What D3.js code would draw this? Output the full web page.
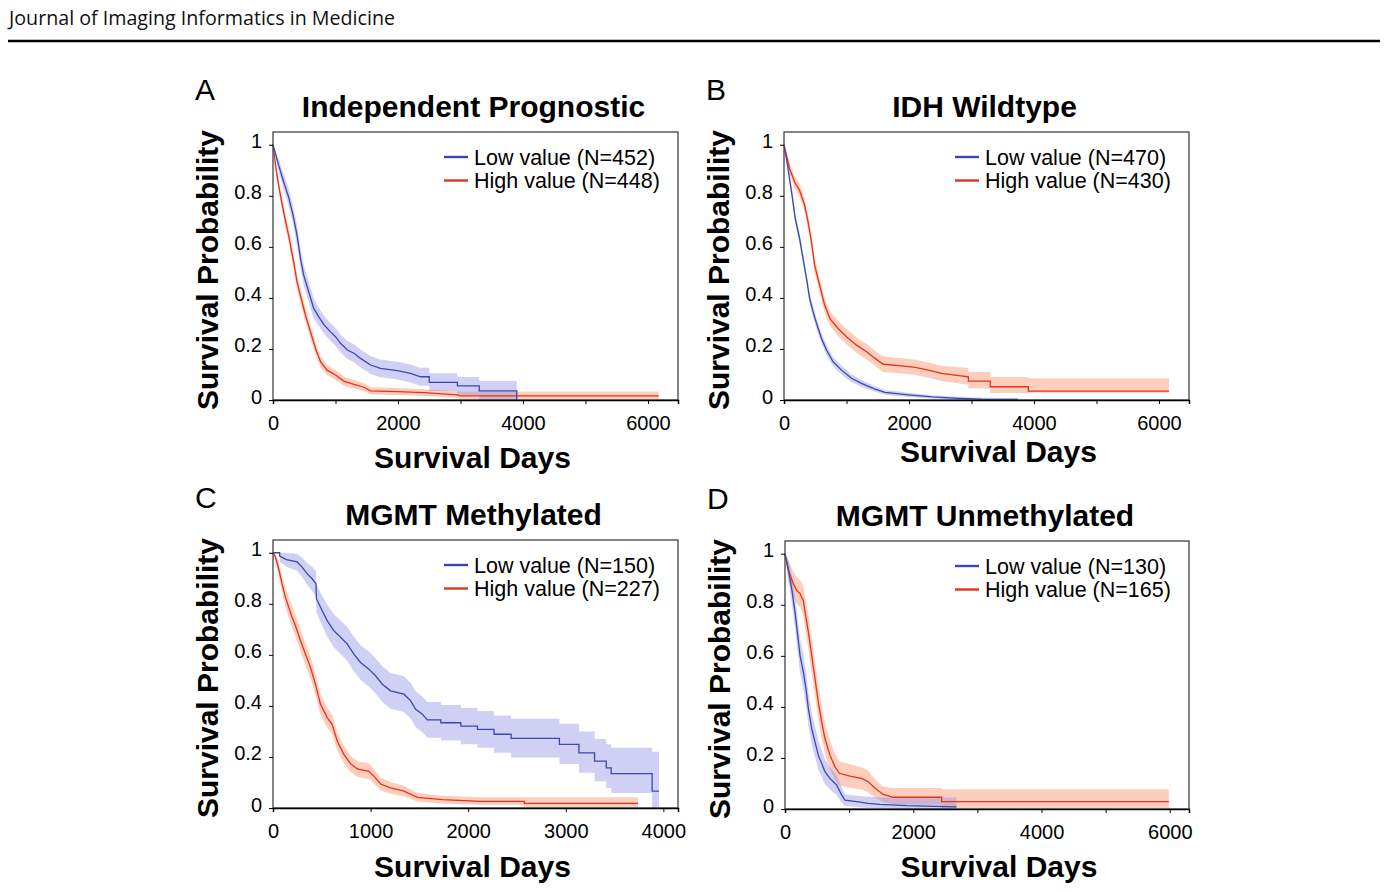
<!DOCTYPE html>
<html>
<head>
<meta charset="utf-8">
<script src="https://cdn.jsdelivr.net/npm/d3@7"></script>
<style>
  body { margin: 0; background: #fff; }
  svg { display: block; }
</style>
</head>
<body>
<script>
// Kaplan-Meier rows: [days, survival, lower CI, upper CI]
const aLow = [
  [0, 1, 1, 1], [90, 0.92, 0.895, 0.945], [170, 0.855, 0.825, 0.885], [250, 0.795, 0.76, 0.83],
  [320, 0.725, 0.69, 0.76], [385, 0.645, 0.605, 0.685], [440, 0.555, 0.515, 0.595], [490, 0.49, 0.45, 0.53],
  [570, 0.425, 0.385, 0.465], [650, 0.36, 0.32, 0.4], [735, 0.325, 0.29, 0.36], [815, 0.295, 0.26, 0.33],
  [920, 0.267, 0.232, 0.302], [1000, 0.248, 0.213, 0.283], [1080, 0.222, 0.187, 0.257], [1190, 0.196, 0.161, 0.231],
  [1295, 0.183, 0.148, 0.218], [1400, 0.163, 0.128, 0.198], [1560, 0.137, 0.102, 0.172], [1720, 0.124, 0.089, 0.159],
  [1990, 0.115, 0.08, 0.15], [2200, 0.104, 0.069, 0.139], [2360, 0.091, 0.056, 0.126],
  [2500, 0.091, 0.056, 0.126], [2500, 0.069, 0.035, 0.105], [2950, 0.069, 0.035, 0.105],
  [2950, 0.055, 0.02, 0.09], [3300, 0.055, 0.02, 0.09], [3300, 0.036, 0, 0.074],
  [3900, 0.036, 0, 0.074], [3900, 0, 0, 0]
];
const aHigh = [
  [0, 1, 1, 1], [55, 0.893, 0.875, 0.91], [120, 0.8, 0.775, 0.825], [180, 0.724, 0.695, 0.753],
  [250, 0.645, 0.615, 0.675], [330, 0.541, 0.51, 0.572], [385, 0.463, 0.433, 0.493], [450, 0.398, 0.368, 0.428],
  [520, 0.332, 0.302, 0.362], [600, 0.267, 0.24, 0.294], [680, 0.202, 0.177, 0.227], [760, 0.15, 0.128, 0.172],
  [865, 0.117, 0.097, 0.137], [1000, 0.098, 0.078, 0.118], [1135, 0.074, 0.056, 0.092], [1295, 0.061, 0.044, 0.078],
  [1455, 0.05, 0.034, 0.066], [1560, 0.036, 0.022, 0.05], [1990, 0.033, 0.02, 0.047], [2420, 0.029, 0.016, 0.042],
  [2950, 0.02, 0.008, 0.034], [3000, 0.016, 0.003, 0.033], [6170, 0.016, 0.003, 0.033]
];
const bLow = [
  [0, 1, 1, 1], [65, 0.906, 0.89, 0.922], [130, 0.8, 0.78, 0.82], [180, 0.711, 0.69, 0.732],
  [250, 0.632, 0.61, 0.654], [305, 0.554, 0.532, 0.576], [360, 0.476, 0.454, 0.498], [410, 0.398, 0.376, 0.42],
  [465, 0.346, 0.324, 0.368], [520, 0.3, 0.278, 0.322], [600, 0.241, 0.22, 0.262], [680, 0.196, 0.176, 0.216],
  [785, 0.15, 0.132, 0.168], [920, 0.117, 0.1, 0.134], [1080, 0.085, 0.07, 0.1], [1240, 0.065, 0.052, 0.078],
  [1455, 0.043, 0.032, 0.054], [1615, 0.03, 0.021, 0.039], [1990, 0.02, 0.012, 0.028], [2365, 0.012, 0.006, 0.019],
  [2790, 0.0065, 0.002, 0.013], [3165, 0.003, 0, 0.009], [3740, 0.002, 0, 0.008]
];
const bHigh = [
  [0, 1, 1, 1], [90, 0.906, 0.885, 0.927], [170, 0.854, 0.83, 0.878], [250, 0.821, 0.795, 0.847],
  [330, 0.763, 0.735, 0.791], [385, 0.698, 0.668, 0.728], [440, 0.619, 0.589, 0.649], [490, 0.528, 0.498, 0.558],
  [570, 0.45, 0.42, 0.48], [650, 0.372, 0.342, 0.402], [735, 0.319, 0.29, 0.348], [865, 0.28, 0.25, 0.31],
  [1000, 0.248, 0.218, 0.278], [1160, 0.215, 0.185, 0.245], [1320, 0.189, 0.159, 0.219], [1455, 0.163, 0.133, 0.193],
  [1590, 0.14, 0.11, 0.17], [1880, 0.134, 0.104, 0.164], [2100, 0.128, 0.098, 0.158], [2310, 0.117, 0.087, 0.147],
  [2520, 0.104, 0.074, 0.134], [2950, 0.091, 0.06, 0.125], [2950, 0.074, 0.045, 0.11], [3300, 0.074, 0.045, 0.11],
  [3300, 0.052, 0.027, 0.09], [3910, 0.052, 0.027, 0.09], [3910, 0.035, 0.028, 0.085], [6160, 0.035, 0.028, 0.085]
];
const cLow = [
  [0, 1, 1, 1], [68, 1, 1, 1], [68, 0.987, 0.965, 1], [137, 0.973, 0.945, 1], [247, 0.964, 0.93, 0.995],
  [298, 0.944, 0.905, 0.98], [349, 0.918, 0.875, 0.96], [401, 0.898, 0.85, 0.945], [440, 0.879, 0.83, 0.928],
  [445, 0.82, 0.765, 0.875], [503, 0.774, 0.715, 0.833], [555, 0.734, 0.672, 0.796], [623, 0.695, 0.63, 0.76],
  [692, 0.669, 0.603, 0.735], [760, 0.643, 0.577, 0.709], [829, 0.603, 0.535, 0.671], [897, 0.57, 0.502, 0.638],
  [983, 0.544, 0.475, 0.613], [1051, 0.518, 0.449, 0.587], [1120, 0.485, 0.415, 0.555], [1205, 0.459, 0.389, 0.529],
  [1342, 0.446, 0.376, 0.516], [1411, 0.42, 0.35, 0.49], [1462, 0.387, 0.317, 0.457], [1531, 0.367, 0.297, 0.437],
  [1582, 0.345, 0.275, 0.415], [1720, 0.345, 0.275, 0.415], [1720, 0.334, 0.264, 0.404], [1925, 0.334, 0.264, 0.404],
  [1925, 0.321, 0.25, 0.392], [2095, 0.321, 0.25, 0.392], [2095, 0.308, 0.236, 0.38], [2265, 0.308, 0.236, 0.38],
  [2265, 0.289, 0.216, 0.362], [2440, 0.289, 0.216, 0.362], [2440, 0.273, 0.198, 0.35], [2935, 0.273, 0.198, 0.35],
  [2935, 0.249, 0.172, 0.33], [3135, 0.249, 0.172, 0.33], [3135, 0.216, 0.138, 0.3], [3295, 0.216, 0.138, 0.3],
  [3295, 0.184, 0.105, 0.27], [3415, 0.184, 0.105, 0.27], [3415, 0.157, 0.078, 0.25], [3465, 0.157, 0.078, 0.25],
  [3465, 0.135, 0.059, 0.236], [3885, 0.135, 0.059, 0.236], [3885, 0.066, 0, 0.22], [3955, 0.066, 0, 0.22]
];
const cHigh = [
  [0, 1, 1, 1], [24, 0.984, 0.97, 0.998], [58, 0.938, 0.91, 0.966], [92, 0.879, 0.845, 0.913],
  [127, 0.826, 0.788, 0.864], [161, 0.787, 0.747, 0.827], [195, 0.748, 0.707, 0.789], [229, 0.715, 0.673, 0.757],
  [281, 0.656, 0.613, 0.699], [332, 0.603, 0.56, 0.646], [384, 0.551, 0.508, 0.594], [435, 0.485, 0.443, 0.527],
  [486, 0.407, 0.366, 0.448], [555, 0.354, 0.315, 0.393], [606, 0.328, 0.29, 0.366], [658, 0.262, 0.226, 0.298],
  [726, 0.21, 0.176, 0.244], [795, 0.173, 0.141, 0.205], [863, 0.153, 0.122, 0.184], [983, 0.144, 0.114, 0.174],
  [1034, 0.125, 0.097, 0.153], [1103, 0.094, 0.069, 0.119], [1205, 0.079, 0.056, 0.102], [1342, 0.066, 0.045, 0.087],
  [1479, 0.042, 0.025, 0.059], [1736, 0.033, 0.018, 0.048], [2130, 0.026, 0.012, 0.042], [2575, 0.026, 0.012, 0.042],
  [2575, 0.018, 0.003, 0.042], [3740, 0.018, 0.003, 0.042]
];
const dLow = [
  [0, 1, 1, 1], [52, 0.941, 0.9, 0.975], [104, 0.863, 0.81, 0.915], [156, 0.772, 0.71, 0.834],
  [192, 0.694, 0.63, 0.758], [234, 0.602, 0.535, 0.669], [286, 0.537, 0.47, 0.604], [327, 0.472, 0.405, 0.539],
  [364, 0.394, 0.328, 0.46], [416, 0.316, 0.252, 0.38], [468, 0.263, 0.203, 0.323], [519, 0.211, 0.155, 0.267],
  [571, 0.179, 0.126, 0.232], [623, 0.146, 0.097, 0.195], [701, 0.12, 0.075, 0.165], [805, 0.094, 0.055, 0.133],
  [883, 0.055, 0.025, 0.085], [935, 0.035, 0.012, 0.058], [1117, 0.029, 0.008, 0.052], [1299, 0.022, 0.004, 0.048],
  [1481, 0.018, 0.002, 0.046], [1896, 0.013, 0, 0.045], [2675, 0.008, 0, 0.045]
];
const dHigh = [
  [0, 1, 1, 1], [52, 0.935, 0.895, 0.975], [130, 0.883, 0.835, 0.93], [182, 0.857, 0.805, 0.909],
  [234, 0.844, 0.79, 0.898], [286, 0.817, 0.76, 0.874], [312, 0.772, 0.71, 0.834], [364, 0.694, 0.628, 0.76],
  [416, 0.602, 0.534, 0.67], [468, 0.511, 0.443, 0.579], [519, 0.42, 0.353, 0.487], [571, 0.342, 0.278, 0.406],
  [623, 0.276, 0.216, 0.336], [701, 0.211, 0.155, 0.267], [779, 0.166, 0.115, 0.217], [847, 0.14, 0.093, 0.187],
  [1013, 0.129, 0.083, 0.175], [1195, 0.12, 0.076, 0.164], [1299, 0.107, 0.065, 0.149], [1403, 0.081, 0.045, 0.117],
  [1532, 0.057, 0.027, 0.087], [1688, 0.046, 0.018, 0.082], [2442, 0.046, 0.018, 0.082],
  [2442, 0.029, 0.003, 0.077], [5986, 0.029, 0.003, 0.077]
];

const panelLetters = ["A", "B", "C", "D"];
const panelTitles = ["Independent Prognostic", "IDH Wildtype", "MGMT Methylated", "MGMT Unmethylated"];
const lowN = [452, 470, 150, 130];
const highN = [448, 430, 227, 165];
const yTicks = [0, 0.2, 0.4, 0.6, 0.8, 1];
const xLabelTicksWide = [0, 2000, 4000, 6000];
const xLabelTicksShort = [0, 1000, 2000, 3000, 4000];

const lowColor = "#3b47b3", highColor = "#e4321f";
const lowBand = "#8f8fe6", highBand = "#fa8a5e";
const font = "'Liberation Sans', Arial, sans-serif";

// layout of the four panels
const layout = [
  { left: 273, top: 132, w: 405, h: 268, xMax: 6480, labels: xLabelTicksWide, xlabDx: -3, xlabDy: 68 },
  { left: 784, top: 132, w: 405, h: 268, xMax: 6480, labels: xLabelTicksWide, xlabDx: 12, xlabDy: 62 },
  { left: 273, top: 540, w: 405, h: 268, xMax: 4150, labels: xLabelTicksShort, xlabDx: -3, xlabDy: 69 },
  { left: 785, top: 541, w: 404, h: 268, xMax: 6300, labels: xLabelTicksWide, xlabDx: 12, xlabDy: 68 },
];
const curves = [[aLow, aHigh], [bLow, bHigh], [cLow, cHigh], [dLow, dHigh]];

const svg = d3.select("body").append("svg").attr("width", 1387).attr("height", 892);

// journal header
svg.append("text")
  .attr("x", 9).attr("y", 25)
  .attr("font-family", "'Open Sans', 'Noto Sans', sans-serif")
  .attr("font-size", 20)
  .attr("textLength", 386).attr("lengthAdjust", "spacingAndGlyphs")
  .attr("fill", "#111")
  .text("Journal of Imaging Informatics in Medicine");
svg.append("line")
  .attr("x1", 8).attr("x2", 1380).attr("y1", 41).attr("y2", 41)
  .attr("stroke", "#000").attr("stroke-width", 2.5);

layout.forEach((p, i) => {
  const x = d3.scaleLinear().domain([0, p.xMax]).range([p.left, p.left + p.w]);
  const y = d3.scaleLinear().domain([0, 1.05]).range([p.top + p.h, p.top]);
  const g = svg.append("g").attr("font-family", font);

  const area = d3.area().x((d) => x(d[0])).y0((d) => y(d[2])).y1((d) => y(d[3]));
  const line = d3.line().x((d) => x(d[0])).y((d) => y(d[1]));
  const [low, high] = curves[i];

  g.append("path").attr("d", area(high)).attr("fill", highBand).attr("fill-opacity", 0.42);
  g.append("path").attr("d", area(low)).attr("fill", lowBand).attr("fill-opacity", 0.42);
  g.append("path").attr("d", line(high)).attr("fill", "none").attr("stroke", highColor).attr("stroke-width", 1.3);
  g.append("path").attr("d", line(low)).attr("fill", "none").attr("stroke", lowColor).attr("stroke-width", 1.3);

  // frame
  g.append("rect")
    .attr("x", p.left).attr("y", p.top).attr("width", p.w).attr("height", p.h)
    .attr("fill", "none").attr("stroke", "#444").attr("stroke-width", 1.3);

  // x axis
  const xAxis = g.append("g")
    .attr("transform", `translate(0,${p.top + p.h})`)
    .call(d3.axisBottom(x)
      .tickValues(d3.range(0, p.xMax, 1000))
      .tickSize(4).tickPadding(12)
      .tickFormat((d) => (p.labels.includes(d) ? d : "")));
  xAxis.select(".domain").attr("stroke", "#000").attr("stroke-width", 1.5);
  xAxis.selectAll("text").attr("font-size", 20).attr("fill", "#000").attr("font-family", font);

  // y axis
  const yAxis = g.append("g")
    .attr("transform", `translate(${p.left},0)`)
    .call(d3.axisLeft(y).tickValues(yTicks).tickSize(4).tickPadding(7).tickFormat(d3.format("~g")));
  yAxis.select(".domain").remove();
  yAxis.selectAll("text").attr("font-size", 20).attr("fill", "#000").attr("dy", "0.15em").attr("font-family", font);

  // panel letter and title
  g.append("text").attr("x", p.left - 78).attr("y", p.top - 32)
    .attr("font-size", 30).text(panelLetters[i]);
  g.append("text").attr("x", p.left + p.w / 2 - 2).attr("y", p.top - 15)
    .attr("text-anchor", "middle").attr("font-size", 30).attr("font-weight", "bold")
    .text(panelTitles[i]);

  // axis titles
  g.append("text").attr("x", p.left + p.w / 2 + p.xlabDx).attr("y", p.top + p.h + p.xlabDy)
    .attr("text-anchor", "middle").attr("font-size", 30).attr("font-weight", "bold")
    .text("Survival Days");
  g.append("text")
    .attr("transform", `translate(${p.left - 55},${p.top + p.h / 2 + 4}) rotate(-90)`)
    .attr("text-anchor", "middle").attr("font-size", 30).attr("font-weight", "bold")
    .text("Survival Probability");

  // legend
  const legend = [
    { label: `Low value (N=${lowN[i]})`, color: lowColor, dy: 25 },
    { label: `High value (N=${highN[i]})`, color: highColor, dy: 48.5 },
  ];
  legend.forEach((l) => {
    const ly = p.top + l.dy;
    g.append("line")
      .attr("x1", p.left + p.w - 234).attr("x2", p.left + p.w - 210)
      .attr("y1", ly).attr("y2", ly)
      .attr("stroke", l.color).attr("stroke-width", 2.4);
    g.append("text").attr("x", p.left + p.w - 204).attr("y", ly).attr("dy", "0.35em")
      .attr("font-size", 21.5).text(l.label);
  });
});
</script>
</body>
</html>
